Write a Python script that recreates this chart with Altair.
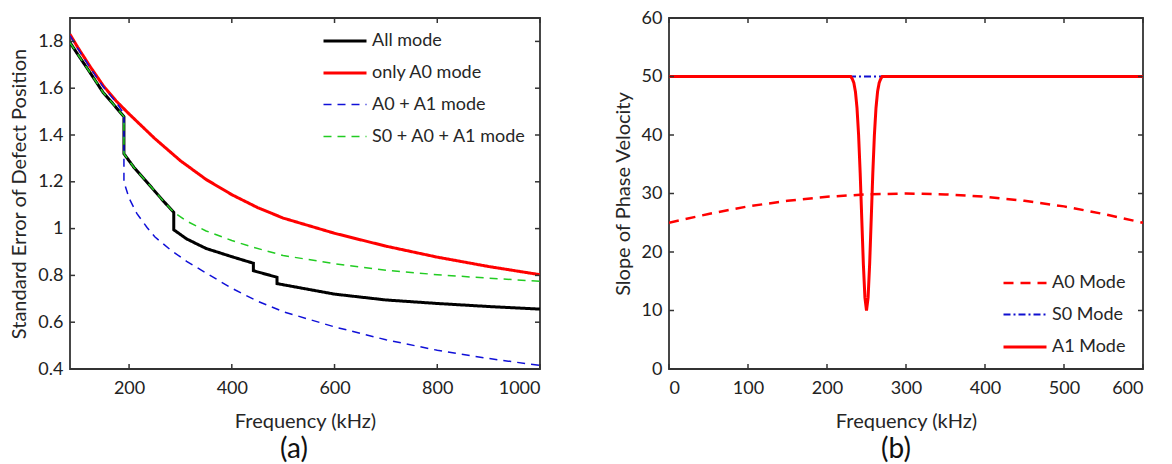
import altair as alt
import pandas as pd

# ---------------- Panel (a) data ----------------
black_f = [85, 100, 120, 150, 170, 190, 190, 210, 230, 250, 270, 287, 287, 312, 350, 400, 442, 442, 488, 488, 550, 600, 700, 800, 900, 1000]
black_v = [1.795, 1.745, 1.68, 1.58, 1.53, 1.478, 1.32, 1.26, 1.21, 1.16, 1.11, 1.07, 0.995, 0.956, 0.915, 0.88, 0.852, 0.82, 0.792, 0.765, 0.74, 0.72, 0.695, 0.68, 0.667, 0.656]

red_f = [85, 100, 125, 150, 175, 200, 250, 300, 350, 400, 450, 500, 600, 700, 800, 900, 1000]
red_v = [1.83, 1.775, 1.69, 1.61, 1.545, 1.49, 1.385, 1.29, 1.21, 1.145, 1.09, 1.045, 0.98, 0.925, 0.878, 0.838, 0.803]

blue_f = [85, 100, 125, 150, 175, 190, 190, 200, 215, 235, 250, 280, 312, 350, 400, 450, 500, 600, 700, 800, 900, 1000]
blue_v = [1.825, 1.77, 1.685, 1.605, 1.54, 1.49, 1.20, 1.13, 1.065, 1.005, 0.965, 0.91, 0.86, 0.81, 0.745, 0.69, 0.645, 0.58, 0.525, 0.48, 0.445, 0.415]

green_f = [85, 100, 120, 150, 170, 190, 190, 210, 230, 250, 270, 287, 312, 350, 400, 442, 500, 600, 700, 800, 900, 1000]
green_v = [1.795, 1.745, 1.68, 1.58, 1.53, 1.478, 1.32, 1.26, 1.21, 1.16, 1.11, 1.07, 1.032, 0.99, 0.949, 0.92, 0.885, 0.85, 0.822, 0.803, 0.788, 0.775]

a_series = ["All mode", "only A0 mode", "A0 + A1 mode", "S0 + A0 + A1 mode"]
a_xticks = [200, 400, 600, 800, 1000]
a_yticks = [0.4, 0.6, 0.8, 1.0, 1.2, 1.4, 1.6, 1.8]

# ---------------- Panel (b) data ----------------
a0_f = [0, 50, 100, 150, 200, 250, 300, 350, 400, 450, 500, 550, 600]
a0_v = [25, 26.5, 27.8, 28.75, 29.45, 29.85, 30, 29.85, 29.45, 28.75, 27.8, 26.5, 25]

s0_f = [0, 600]
s0_v = [50, 50]

a1_f = [0, 230, 232, 234, 236, 238, 240, 242, 244, 246, 248, 250, 252, 254, 256, 258, 260, 262, 264, 266, 268, 270, 600]
a1_v = [50, 50, 49.6, 48.9, 47.4, 44.6, 40.0, 33.5, 25.7, 18.0, 12.2, 10, 12.2, 18.0, 25.7, 33.5, 40.0, 44.6, 47.4, 48.9, 49.6, 50, 50]

b_series = ["A0 Mode", "S0 Mode", "A1 Mode"]
b_xticks = [0, 100, 200, 300, 400, 500, 600]
b_yticks = [0, 10, 20, 30, 40, 50, 60]

FONT = "Lato"
W, H = 470, 351
TICK_LEN = 5
BOX = "#333333"


def series_df(name, fs, vs):
    return pd.DataFrame({"f": fs, "v": vs, "s": name, "i": list(range(len(fs)))})


def make_panel(series_data, names, colors, dashes, widths, xdom, ydom, xticks, yticks,
               ytitle, panel_label, legend_x, legend_y, label_dx, width):
    xscale = alt.Scale(domain=xdom, nice=False, zero=False)
    yscale = alt.Scale(domain=ydom, nice=False, zero=False)
    xaxis = alt.Axis(values=xticks, title="Frequency (kHz)", format="~r")
    yaxis = alt.Axis(values=yticks, title=ytitle, format="~r")

    layers = []
    for k, (name, fs, vs) in enumerate(series_data):
        df = series_df(name, fs, vs)
        enc = dict(
            x=alt.X("f:Q", scale=xscale, axis=xaxis),
            y=alt.Y("v:Q", scale=yscale, axis=yaxis),
            order=alt.Order("i:Q"),
            color=alt.Color("s:N", scale=alt.Scale(type="ordinal", domain=names, range=colors),
                            legend=alt.Legend(title=None, orient="none", legendX=legend_x,
                                              legendY=legend_y, symbolType="stroke",
                                              symbolSize=1849, labelFont=FONT,
                                              labelFontSize=18, labelColor="#262626",
                                              rowPadding=-21, padding=0, labelOffset=4,
                                              symbolOffset=0)),
            strokeDash=alt.StrokeDash("s:N", scale=alt.Scale(type="ordinal", domain=names, range=dashes)),
            strokeWidth=alt.StrokeWidth("s:N", scale=alt.Scale(type="ordinal", domain=names, range=widths)),
        )
        layers.append(alt.Chart(df).mark_line(clip=True).encode(**enc))

    xt = pd.DataFrame({"f": xticks})
    yt = pd.DataFrame({"v": yticks})
    tick_style = dict(color=BOX, strokeWidth=1.5)
    bottom = alt.Chart(xt).mark_rule(**tick_style).encode(
        x=alt.X("f:Q", scale=xscale, axis=xaxis), y=alt.value(H), y2=alt.value(H - TICK_LEN))
    top = alt.Chart(xt).mark_rule(**tick_style).encode(
        x=alt.X("f:Q", scale=xscale, axis=xaxis), y=alt.value(0), y2=alt.value(TICK_LEN))
    left = alt.Chart(yt).mark_rule(**tick_style).encode(
        y=alt.Y("v:Q", scale=yscale, axis=yaxis), x=alt.value(0), x2=alt.value(TICK_LEN))
    right = alt.Chart(yt).mark_rule(**tick_style).encode(
        y=alt.Y("v:Q", scale=yscale, axis=yaxis), x=alt.value(width), x2=alt.value(width - TICK_LEN))

    return alt.layer(*layers, bottom, top, left, right).properties(
        width=width, height=H,
        title=alt.TitleParams(panel_label, orient="bottom", fontSize=28, font=FONT,
                              fontWeight="normal", color="#111111", offset=5, dx=label_dx),
    )


panel_a = make_panel(
    [("All mode", black_f, black_v), ("only A0 mode", red_f, red_v),
     ("A0 + A1 mode", blue_f, blue_v), ("S0 + A0 + A1 mode", green_f, green_v)],
    a_series,
    ["#000000", "#ff0000", "#1010d8", "#22cc22"],
    [[1, 0], [1, 0], [8, 6], [8, 6]],
    [3, 3, 1.5, 1.5],
    [85, 1000], [0.4, 1.9], a_xticks, a_yticks,
    "Standard Error of Defect Position", "(a)", 252, 0, -11, 470,
)

panel_b = make_panel(
    [("A0 Mode", a0_f, a0_v), ("S0 Mode", s0_f, s0_v), ("A1 Mode", a1_f, a1_v)],
    b_series,
    ["#ff0000", "#1010d0", "#ff0000"],
    [[10, 7], [7, 3, 2, 3], [1, 0]],
    [2.5, 2, 3],
    [0, 600], [0, 60], b_xticks, b_yticks,
    "Slope of Phase Velocity", "(b)", 333, 242, -10, 474,
)

chart = alt.hconcat(panel_a, panel_b, spacing=129, bounds="flush").resolve_scale(
    color="independent", strokeDash="independent", strokeWidth="independent",
    x="independent", y="independent",
).resolve_legend(
    color="independent", strokeDash="independent", strokeWidth="independent"
).properties(
    padding=0, background="white"
).configure_view(stroke=BOX, strokeWidth=1.8).configure_axis(
    labelFont=FONT, titleFont=FONT, labelFontSize=18, titleFontSize=20,
    titleFontWeight="normal", labelColor="#222222", titleColor="#262626",
    ticks=False, domain=False, grid=False,
).configure_axisX(labelPadding=10, titlePadding=14).configure_axisY(
    labelPadding=7, titlePadding=8
)

chart.save("out.html", embed_options={"renderer": "svg", "actions": False})
